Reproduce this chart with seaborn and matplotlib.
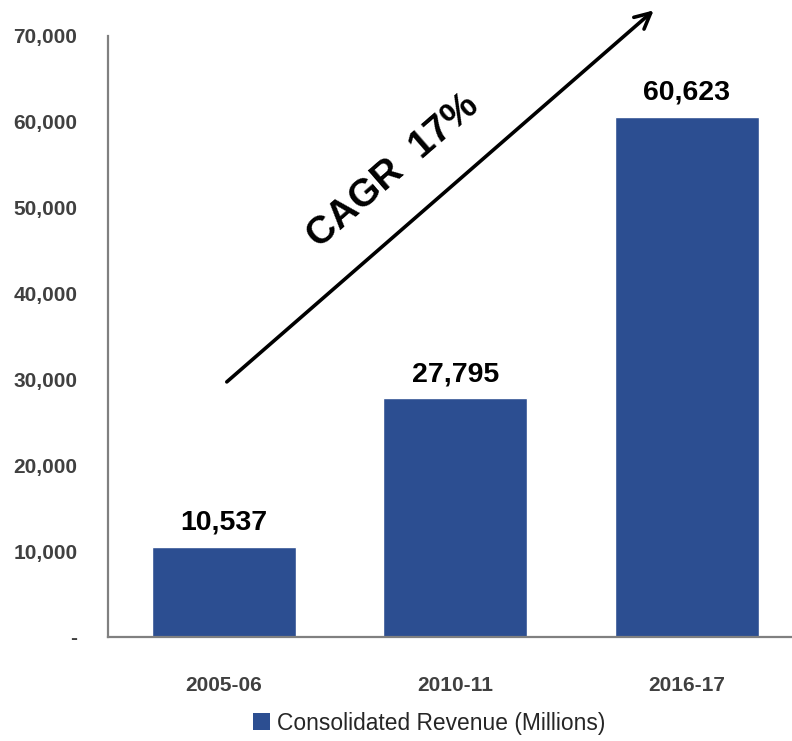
import matplotlib
matplotlib.use("Agg")
import matplotlib.pyplot as plt
import seaborn as sns
import pandas as pd
from matplotlib.patches import Patch
from matplotlib.ticker import FuncFormatter

years = ["2005-06", "2010-11", "2016-17"]
revenue = [10537, 27795, 60623]
y_ticks = [0, 10000, 20000, 30000, 40000, 50000, 60000, 70000]
series_name = "Consolidated Revenue (Millions)"
cagr_text = "CAGR  17%"

bar_color = "#2C4E91"
tick_color = "#404040"

sns.set_theme(style="white")
plt.rcParams["font.family"] = ["Liberation Sans", "DejaVu Sans"]

df = pd.DataFrame({"year": years, "revenue": revenue})

fig = plt.figure(figsize=(7.92, 7.41), dpi=100)
ax = fig.add_axes([108 / 792, 104 / 741, 683 / 792, 601 / 741])

sns.barplot(data=df, x="year", y="revenue", color=bar_color, width=0.622,
            saturation=1, ax=ax)

ax.set_xlim(-0.5, 2.45)
ax.set_ylim(0, 70000)
ax.set_yticks(y_ticks)
ax.yaxis.set_major_formatter(FuncFormatter(lambda v, p: "-" if v == 0 else f"{int(v):,}"))
ax.set_xlabel("")
ax.set_ylabel("")

for lab in ax.get_yticklabels():
    lab.set_fontsize(15)
    lab.set_fontweight("bold")
    lab.set_color(tick_color)
for lab in ax.get_xticklabels():
    lab.set_fontsize(15)
    lab.set_fontweight("bold")
    lab.set_color(tick_color)
ax.tick_params(axis="y", length=0, pad=22)
ax.tick_params(axis="x", length=0, pad=28)

for side in ["top", "right"]:
    ax.spines[side].set_visible(False)
for side in ["left", "bottom"]:
    ax.spines[side].set_color("#808080")
    ax.spines[side].set_linewidth(1.6)

# value labels above each bar
for cont in ax.containers:
    ax.bar_label(cont, labels=[f"{v:,}" for v in revenue], padding=8,
                 fontsize=20.5, fontweight="bold", color="black")

# growth arrow with CAGR annotation
ax.annotate("", xy=(1.866, 73200), xytext=(0.004, 29500),
            arrowprops=dict(arrowstyle="->", color="black", lw=2.6,
                            mutation_scale=28),
            annotation_clip=False)
ax.text(0.73, 54300, cagr_text, rotation=41, rotation_mode="anchor",
        ha="center", va="center", fontsize=28, fontweight="bold", color="black")

handle = Patch(facecolor=bar_color, edgecolor="none")
fig.legend([handle], [series_name], loc="center", bbox_to_anchor=(0.542, 0.024),
           frameon=False, fontsize=16.4, handlelength=0.75, handleheight=0.75,
           handletextpad=0.3)

fig.savefig("out.png", dpi=100)
